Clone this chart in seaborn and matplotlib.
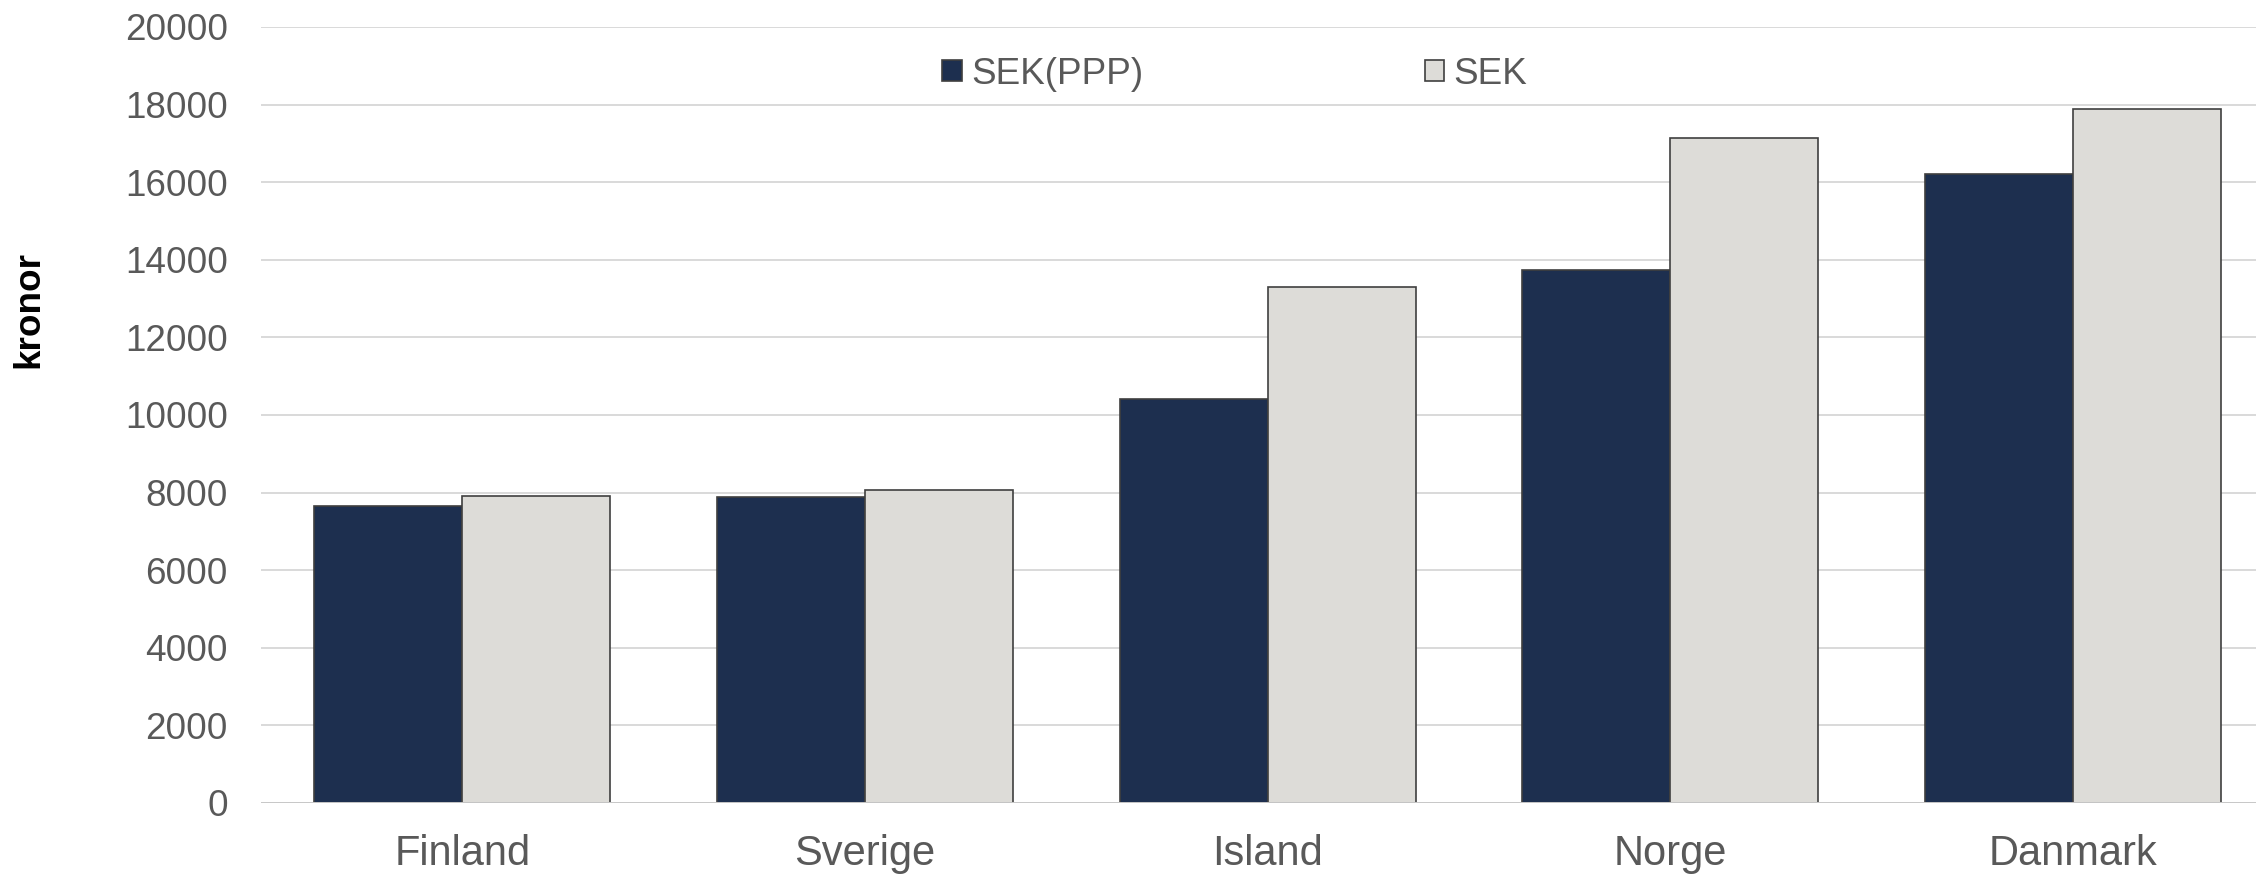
import pandas as pd
import seaborn as sns
from matplotlib import pyplot as plt
from matplotlib.patches import Patch

countries = ["Finland", "Sverige", "Island", "Norge", "Danmark"]
series = ["SEK(PPP)", "SEK"]
sek_ppp = [7650, 7880, 10400, 13750, 16200]
sek = [7920, 8070, 13300, 17130, 17880]
y_ticks = list(range(0, 20001, 2000))

colors = {"SEK(PPP)": "#1d2f4f", "SEK": "#dddcd8"}
text_grey = "#595959"


def main():
    df = pd.DataFrame({
        "land": countries * 2,
        "serie": [series[0]] * len(countries) + [series[1]] * len(countries),
        "kronor": sek_ppp + sek,
    })

    sns.set_style("white")
    plt.rcParams["font.family"] = ["Liberation Sans", "DejaVu Sans"]

    fig = plt.figure(figsize=(22.56, 8.75), dpi=100)
    ax = fig.add_axes([261 / 2256, 1 - 803 / 875, (2256 - 261) / 2256, (803 - 27) / 875])

    sns.barplot(
        data=df, x="land", y="kronor", hue="serie", order=countries,
        hue_order=series, palette=colors, saturation=1, width=0.735, gap=0,
        edgecolor="#3f3f3f", linewidth=1.2, legend=False, ax=ax, zorder=3,
    )

    ax.set_xlim(-0.5, 4.455)
    ax.set_ylim(0, 20000)
    ax.set_yticks(y_ticks)
    ax.set_yticklabels([str(t) for t in y_ticks])
    ax.yaxis.grid(True, color="#d9d9d9", linewidth=1.4, zorder=0)
    ax.set_axisbelow(True)
    for s in ax.spines.values():
        s.set_visible(False)
    ax.axhline(0, color="#c8c8c8", linewidth=1.4, zorder=4)

    ax.tick_params(axis="y", length=0, pad=24, labelsize=26.6, labelcolor=text_grey)
    ax.tick_params(axis="x", length=0, pad=22, labelsize=30, labelcolor=text_grey)
    ax.set_xlabel("")
    ax.set_ylabel("")

    fig.text(29 / 2256, 1 - 310 / 875, "kronor", rotation=90, fontsize=26.6,
             fontweight="bold", ha="center", va="center", color="black")

    handles = [Patch(facecolor=colors[s], edgecolor="#3f3f3f", linewidth=1.2) for s in series]
    fig.legend(
        handles, series, loc="center", bbox_to_anchor=(1235 / 2256, 1 - 74 / 875),
        ncol=2, frameon=False, fontsize=26.6, labelcolor=text_grey,
        handlelength=0.52, handleheight=0.52, handletextpad=0.27,
        columnspacing=7.6, borderpad=0,
    )

    fig.savefig("out.png", dpi=100)
    plt.close(fig)


if __name__ == "__main__":
    main()
